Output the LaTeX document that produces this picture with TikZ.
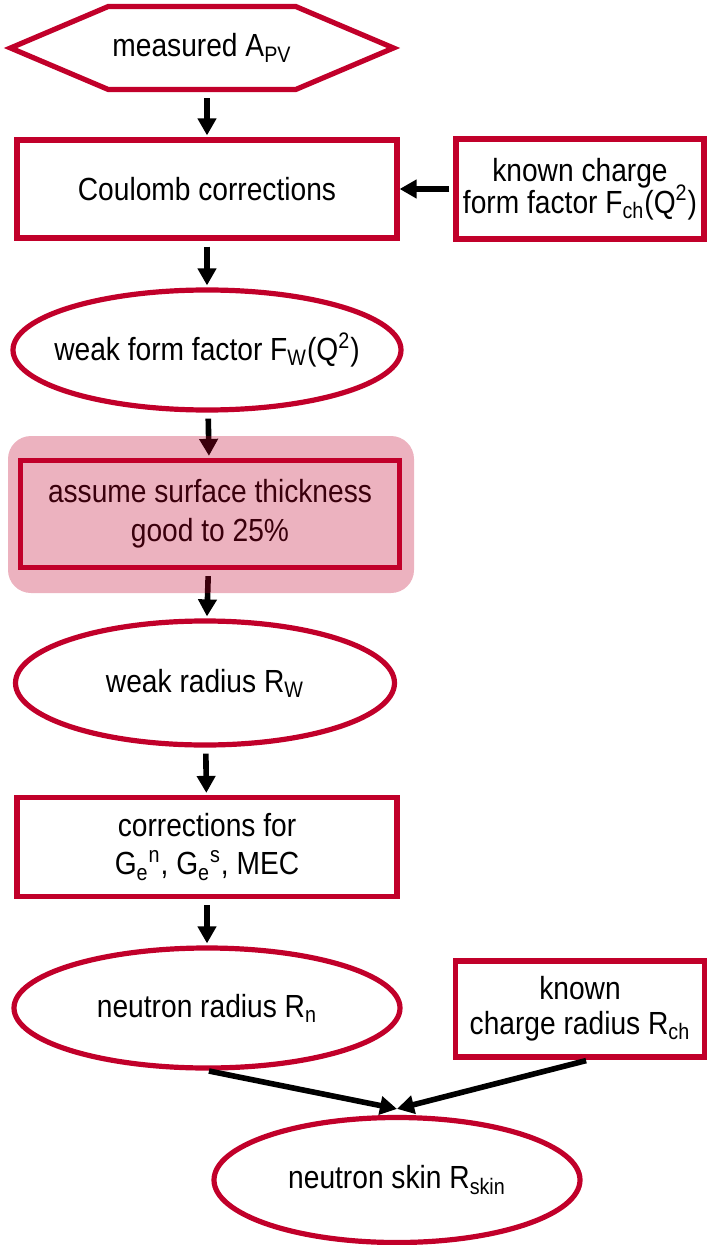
\documentclass[tikz,border=0pt]{standalone}
\usepackage{fontspec}
\setmainfont{Liberation Sans}[FakeStretch=0.88]
\usepackage{tikz}
\usetikzlibrary{arrows.meta, positioning, shapes.geometric, shapes.symbols}
\definecolor{pvred}{RGB}{193,0,42}

\begin{document}
\begin{tikzpicture}[x=0.5pt, y=-0.5pt,
        every node/.style={font=\fontsize{16}{17}\selectfont, align=center, text=black},
        redbox/.style={rectangle, draw=pvred, line width=2.6pt, inner sep=0pt},
        redoval/.style={ellipse, draw=pvred, line width=2.6pt, inner sep=-20pt},
        flow/.style={-{Triangle[length=8.5pt, width=9pt]}, line width=2.8pt, black, shorten <=3pt, shorten >=1pt}]
        \useasboundingbox (0,0) rectangle (706,1245);

        % Main chain
        \node[signal, signal to=west and east, signal pointer angle=46, draw=pvred, line width=2.6pt, inner sep=0pt, minimum width=191.5pt, minimum height=41.5pt] (meas) at (202,48) {measured A\textsubscript{PV}};
        \node[redbox, minimum width=190pt, minimum height=49pt] (coul) at (207,189) {Coulomb corrections};
        \node[redoval, minimum width=194pt, minimum height=60pt] (wff) at (207,350) {weak form factor F\textsubscript{W}(Q\textsuperscript{2})};
        \node[redbox, minimum width=189.5pt, minimum height=53.5pt] (assume) at (210,514) {assume surface thickness\\[2.5pt]good to 25\%};
        \node[redoval, minimum width=189.5pt, minimum height=62pt] (wr) at (205,683) {weak radius R\textsubscript{W}};
        \node[redbox, minimum width=190pt, minimum height=49.5pt] (corr) at (207,847) {corrections for\\[2pt]G\textsubscript{e}\textsuperscript{n}, G\textsubscript{e}\textsuperscript{s}, MEC};
        \node[redoval, minimum width=193pt, minimum height=60pt] (nr) at (207,1008) {neutron radius R\textsubscript{n}};
        \node[redoval, minimum width=183pt, minimum height=62.5pt] (skin) at (397,1180) {neutron skin R\textsubscript{skin}};

        % Known inputs
        \node[redbox, minimum width=124pt, minimum height=50pt] (kff) at (580,189) {known charge\\[-2.5pt]form factor F\textsubscript{ch}(Q\textsuperscript{2})};
        \node[redbox, minimum width=124.5pt, minimum height=48pt] (kcr) at (580,1009) {known\\[0.5pt]charge radius R\textsubscript{ch}};

        \draw[flow] (meas.south -| coul.north) -- (coul.north);
        \draw[flow] (coul) -- (wff);
        \draw[flow] (wff) -- (assume);
        \draw[flow] (assume) -- (wr);
        \draw[flow] (wr) -- (corr);
        \draw[flow] (corr) -- (nr);
        \draw[flow, shorten <=2pt, shorten >=0pt] (kff.west) -- (coul.east);

        % Converging arrows
        \coordinate (meet) at ([yshift=3pt]skin.north);
        \draw[flow, shorten <=1pt, shorten >=0pt] (nr.south) -- (meet);
        \draw[flow, shorten <=2pt, shorten >=0pt] ([xshift=5pt]kcr.south) -- (meet);

        % Highlight
        \fill[pvred, fill opacity=0.3, rounded corners=11.5pt] (8,436) rectangle (414,593);
\end{tikzpicture}
\end{document}
